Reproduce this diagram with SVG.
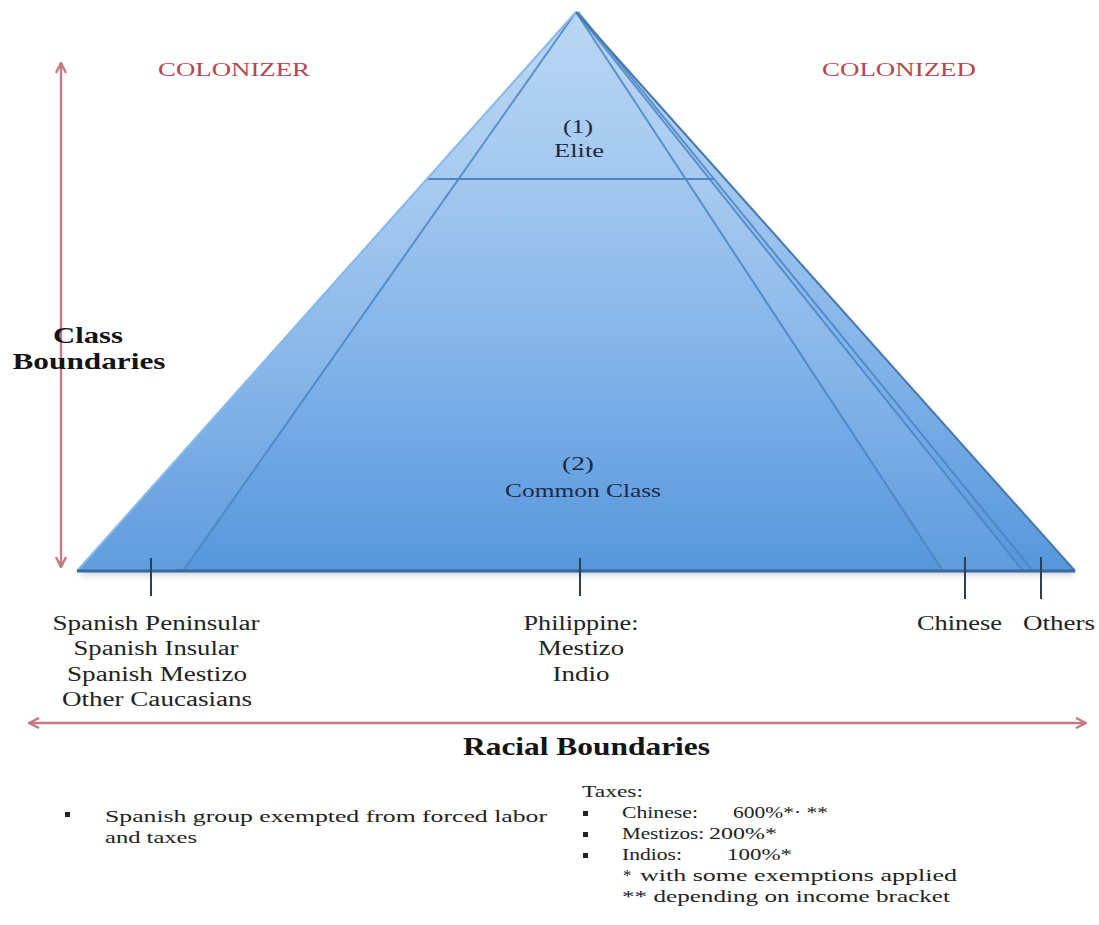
<svg xmlns="http://www.w3.org/2000/svg" width="1099" height="925" viewBox="0 0 1099 925">
<style>
.t{font-family:"Liberation Serif","Times New Roman",serif;fill:#222222}
.hd{font-family:"Liberation Serif","Times New Roman",serif;fill:#b5474f;font-size:19px}
.b{font-weight:bold;fill:#141414}
.pl{font-family:"Liberation Serif","Times New Roman",serif;fill:#1d2a44;font-size:18px}
.n{font-size:17px}
.tick{stroke:#2c3e58;stroke-width:2}
.inner{stroke:#4a84c4;stroke-width:2;fill:none;opacity:0.85}
.arr{stroke:#c47a82;stroke-width:2.4;fill:none}
</style>
<defs>
<linearGradient id="pg" x1="0" y1="12" x2="0" y2="571" gradientUnits="userSpaceOnUse">
<stop offset="0" stop-color="#bad7f4"/>
<stop offset="0.3" stop-color="#a3c8f0"/>
<stop offset="0.65" stop-color="#7fb1e8"/>
<stop offset="1" stop-color="#5697dc"/>
</linearGradient>
<filter id="sh" x="-10%" y="-10%" width="120%" height="130%">
<feGaussianBlur stdDeviation="3"/>
</filter>
<marker id="ah" viewBox="0 0 12 12" refX="11" refY="6" markerWidth="12" markerHeight="12" markerUnits="userSpaceOnUse" orient="auto-start-reverse">
<path d="M1,1 L11,6 L1,11" fill="none" stroke="#c47a82" stroke-width="2.4"/>
</marker>
</defs>
<rect width="1099" height="925" fill="#ffffff"/>

<g id="pyramid">
<polygon points="576,16 79,575 1077,575" fill="#6a7f96" opacity="0.35" filter="url(#sh)"/>
<polygon points="576,12 77,571 1075,571" fill="url(#pg)"/>
<polygon points="576,12 77,571 183,571" fill="#ffffff" opacity="0.06"/>
<polygon points="576,12 943,571 1023,571" fill="#ffffff" opacity="0.05"/>
<line class="inner" x1="576" y1="12" x2="183" y2="571"/>
<line class="inner" x1="576" y1="12" x2="943" y2="571"/>
<line class="inner" x1="576" y1="12" x2="1023" y2="571"/>
<line class="inner" x1="578" y1="12" x2="1033" y2="571"/>
<line x1="427" y1="179" x2="714" y2="179" stroke="#4d86c2" stroke-width="2"/>
<line x1="576" y1="12" x2="77" y2="571" stroke="#86b8ea" stroke-width="2"/>
<line x1="576" y1="12" x2="1075" y2="571" stroke="#4677ad" stroke-width="2"/>
<line x1="77" y1="571" x2="1075" y2="571" stroke="#3a6899" stroke-width="3"/>
</g>

<g id="elite">
<text class="pl" x="578" y="133" text-anchor="middle" textLength="30" lengthAdjust="spacingAndGlyphs">(1)</text>
<text class="pl" x="579" y="157" text-anchor="middle" textLength="50" lengthAdjust="spacingAndGlyphs">Elite</text>
</g>
<g id="common">
<text class="pl" x="578" y="470" text-anchor="middle" textLength="32" lengthAdjust="spacingAndGlyphs">(2)</text>
<text class="pl" x="583" y="497" text-anchor="middle" textLength="156" lengthAdjust="spacingAndGlyphs">Common Class</text>
</g>

<g id="colonizer">
<text class="hd" x="158" y="76" textLength="152" lengthAdjust="spacingAndGlyphs">COLONIZER</text>
</g>
<g id="colonized">
<text class="hd" x="822" y="76" textLength="154" lengthAdjust="spacingAndGlyphs">COLONIZED</text>
</g>

<g id="connectors">
<line class="arr" x1="61" y1="63" x2="61" y2="567" marker-start="url(#ah)" marker-end="url(#ah)"/>
<line class="arr" x1="29" y1="723" x2="1086" y2="723" marker-start="url(#ah)" marker-end="url(#ah)"/>
<line class="tick" x1="151" y1="558" x2="151" y2="596"/>
<line class="tick" x1="580" y1="558" x2="580" y2="596"/>
<line class="tick" x1="965" y1="557" x2="965" y2="599"/>
<line class="tick" x1="1041" y1="557" x2="1041" y2="599"/>
</g>

<g id="class-boundaries">
<text class="t b" x="88" y="343" font-size="24" text-anchor="middle" textLength="70" lengthAdjust="spacingAndGlyphs">Class</text>
<text class="t b" x="89" y="369" font-size="24" text-anchor="middle" textLength="153" lengthAdjust="spacingAndGlyphs">Boundaries</text>
</g>

<g id="spanish">
<text class="t" font-size="20" x="156" y="630" text-anchor="middle" textLength="207" lengthAdjust="spacingAndGlyphs">Spanish Peninsular</text>
<text class="t" font-size="20" x="156" y="655" text-anchor="middle" textLength="165" lengthAdjust="spacingAndGlyphs">Spanish Insular</text>
<text class="t" font-size="20" x="157" y="681" text-anchor="middle" textLength="180" lengthAdjust="spacingAndGlyphs">Spanish Mestizo</text>
<text class="t" font-size="20" x="157" y="706" text-anchor="middle" textLength="190" lengthAdjust="spacingAndGlyphs">Other Caucasians</text>
</g>
<g id="philippine">
<text class="t" font-size="20" x="581" y="630" text-anchor="middle" textLength="115" lengthAdjust="spacingAndGlyphs">Philippine:</text>
<text class="t" font-size="20" x="581" y="655" text-anchor="middle" textLength="86" lengthAdjust="spacingAndGlyphs">Mestizo</text>
<text class="t" font-size="20" x="581" y="681" text-anchor="middle" textLength="57" lengthAdjust="spacingAndGlyphs">Indio</text>
</g>
<g id="chinese">
<text class="t" font-size="20" x="917" y="630" textLength="85" lengthAdjust="spacingAndGlyphs">Chinese</text>
</g>
<g id="others">
<text class="t" font-size="20" x="1023" y="630" textLength="72" lengthAdjust="spacingAndGlyphs">Others</text>
</g>

<g id="racial-boundaries">
<text class="t b" x="463" y="755" font-size="25" textLength="247" lengthAdjust="spacingAndGlyphs">Racial Boundaries</text>
</g>

<g id="note-left">
<rect x="65" y="812" width="5" height="5" fill="#222"/>
<text class="t n" x="105" y="822" textLength="442" lengthAdjust="spacingAndGlyphs">Spanish group exempted from forced labor</text>
<text class="t n" x="105" y="843" textLength="92" lengthAdjust="spacingAndGlyphs">and taxes</text>
</g>

<g id="note-taxes">
<text class="t n" x="582" y="797" textLength="61" lengthAdjust="spacingAndGlyphs">Taxes:</text>
<rect x="583" y="811" width="5" height="5" fill="#222"/>
<rect x="583" y="832" width="5" height="5" fill="#222"/>
<rect x="583" y="853" width="5" height="5" fill="#222"/>
<text class="t n" x="622" y="818" textLength="76" lengthAdjust="spacingAndGlyphs">Chinese:</text>
<text class="t n" x="733" y="818" textLength="95" lengthAdjust="spacingAndGlyphs">600%*· **</text>
<text class="t n" x="622" y="839" textLength="82" lengthAdjust="spacingAndGlyphs">Mestizos:</text>
<text class="t n" x="709" y="839" textLength="68" lengthAdjust="spacingAndGlyphs">200%*</text>
<text class="t n" x="622" y="860" textLength="60" lengthAdjust="spacingAndGlyphs">Indios:</text>
<text class="t n" x="727" y="860" textLength="65" lengthAdjust="spacingAndGlyphs">100%*</text>
<text class="t n" x="623" y="881">*</text>
<text class="t n" x="640" y="881" textLength="317" lengthAdjust="spacingAndGlyphs">with some exemptions applied</text>
<text class="t n" x="622" y="902" textLength="328" lengthAdjust="spacingAndGlyphs">** depending on income bracket</text>
</g>
</svg>
